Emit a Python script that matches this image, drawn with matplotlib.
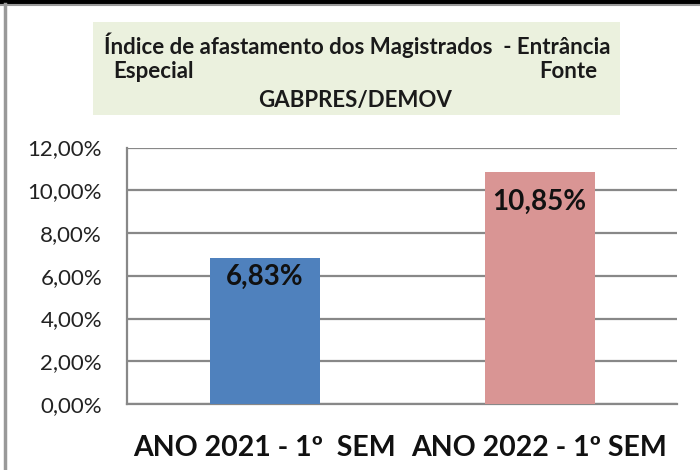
import matplotlib.pyplot as plt
from matplotlib.patches import Rectangle
from matplotlib.lines import Line2D
from matplotlib.ticker import FuncFormatter

categories = ['ANO 2021 - 1º  SEM', 'ANO 2022 - 1º SEM']
values = [6.83, 10.85]
bar_colors = ['#4F81BD', '#D99594']
yticks = [0, 2, 4, 6, 8, 10, 12]

plt.rcParams['font.family'] = ['Lato', 'DejaVu Sans']

W, H = 700, 470
fig = plt.figure(figsize=(7, 4.7), dpi=100)

# plot area in pixel coords
left, right, top, bottom = 127, 677, 147.5, 404
ax = fig.add_axes([left / W, 1 - bottom / H, (right - left) / W, (bottom - top) / H])

x = range(len(categories))
bars = ax.bar(x, values, width=0.4, color=bar_colors, zorder=3)
ax.set_xlim(-0.5, 1.5)
ax.set_ylim(0, 12)
ax.set_yticks(yticks)
ax.yaxis.set_major_formatter(FuncFormatter(lambda v, p: f'{v:.2f}%'.replace('.', ',')))
ax.set_xticks(list(x))
ax.set_xticklabels(categories, fontsize=20.5, fontweight='bold', color='#111111')
ax.tick_params(axis='x', length=0, pad=22)
ax.tick_params(axis='y', length=0, pad=18, labelsize=16, labelcolor='#222222')
ax.grid(axis='y', color='#888888', linewidth=1.6, zorder=0)
for s in ['top', 'right']:
    ax.spines[s].set_visible(False)
for s in ['left', 'bottom']:
    ax.spines[s].set_color('#888888')
    ax.spines[s].set_linewidth(1.6)

# value labels just inside the bar tops (offsets in points)
for b, v, off in zip(bars, values, [-13.5, -21.5]):
    ax.annotate(f'{v:.2f}%'.replace('.', ','), (b.get_x() + b.get_width() / 2, v),
                xytext=(0, off), textcoords='offset points',
                ha='center', va='center', fontsize=20, fontweight='bold', color='#111111', zorder=4)

# title box
fig.patches.append(Rectangle((93 / W, 1 - 115 / H), (620 - 93) / W, (115 - 22) / H,
                             transform=fig.transFigure, facecolor='#EBF1DE', edgecolor='none'))
tkw = dict(fontsize=16, fontweight='bold', color='#1a1a1a')
fig.text(357 / W, 1 - 45 / H, 'Índice de afastamento dos Magistrados  - Entrância', ha='center', va='center', **tkw)
fig.text(113 / W, 1 - 72 / H, 'Especial', ha='left', va='center', **tkw)
fig.text(597 / W, 1 - 72 / H, 'Fonte', ha='right', va='center', **tkw)
fig.text(355 / W, 1 - 100 / H, 'GABPRES/DEMOV', ha='center', va='center', **tkw)

# outer frame edges
fig.lines.append(Line2D([0, 1], [1 - 2 / H, 1 - 2 / H], transform=fig.transFigure, color='black', linewidth=3))
fig.lines.append(Line2D([0, 1], [1 - 5 / H, 1 - 5 / H], transform=fig.transFigure, color='#999999', linewidth=1.5))
fig.lines.append(Line2D([5 / W, 5 / W], [0, 1 - 4 / H], transform=fig.transFigure, color='#999999', linewidth=2.5))

fig.savefig('out.png', dpi=100)
